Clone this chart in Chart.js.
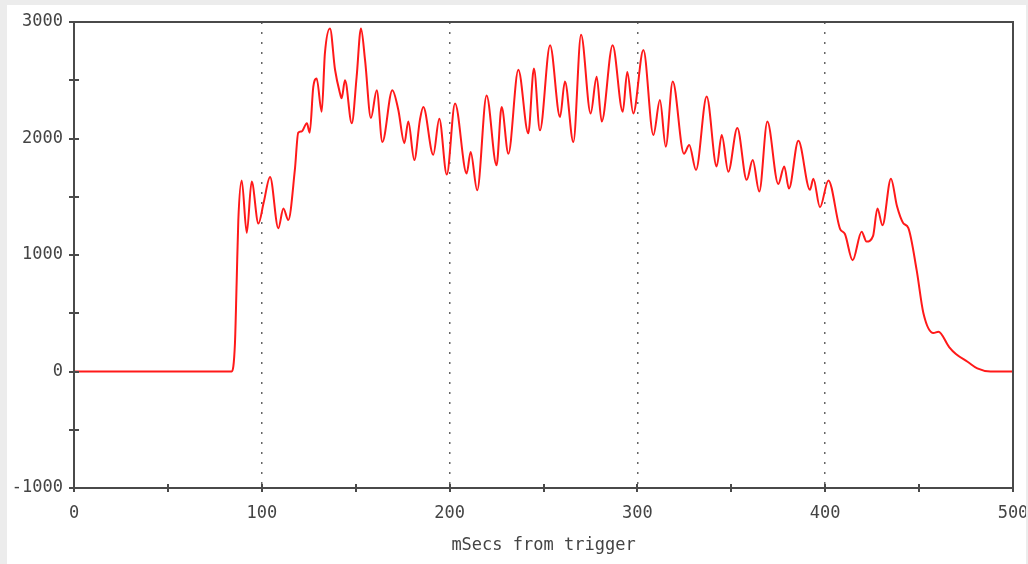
<!DOCTYPE html>
<html>
<head>
<meta charset="utf-8">
<script src="https://cdn.jsdelivr.net/npm/chart.js@4/dist/chart.umd.min.js"></script>
<style>
  html, body { margin: 0; padding: 0; background: #ececec; width: 1028px; height: 564px; overflow: hidden; }
  #panel { position: absolute; left: 7px; top: 5px; width: 1019px; height: 559px; background: #fff; }
  #trace { position: absolute; left: 0; top: 0; }
</style>
</head>
<body>
<div id="panel"></div>
<canvas id="trace" width="1026" height="564"></canvas>
<script>
// time after trigger (ms) and reading, picked off the plot
const msecs = [
  0, 84, 85.7, 86.6, 87.5, 89.3, 92, 94.6, 98.2, 101, 104.4, 108.8, 111.5, 114.1,
  117.6, 119.4, 121.2, 124, 125.5, 127.4, 129.2, 131.9, 133.6, 136.3, 139, 141.6,
  142.5, 144.3, 147.9, 150.5, 152.8, 155, 158.1, 161.2, 164.2, 169.5, 172.7, 175.9,
  178, 181.2, 184.2, 186, 191.3, 194.5, 198.5, 202.9, 209.1, 211.2, 214.7, 219.7,
  225, 227.7, 231.3, 236.6, 241.9, 244.9, 248.1, 253.5, 258.8, 261.4, 265.9, 270,
  275.1, 278.3, 281, 286.8, 292.2, 294.6, 297.8, 303.2, 308.5, 312, 315.1, 318.8,
  324.8, 327.6, 331.2, 336.9, 342.2, 344.9, 348.4, 353.2, 358.2, 361.4, 364.9, 369.2,
  375, 378.2, 380.7, 385.7, 391.9, 393.7, 397.2, 401.7, 407.9, 410.5, 414.6, 419.4,
  422, 425.5, 427.8, 430.5, 435, 438.2, 441.5, 444.3, 448.7, 452.3, 457.6, 460.3,
  466, 469.6, 475.8, 481, 488, 500
];
const readings = [
  0, 0, 240, 760, 1300, 1640, 1190, 1630, 1270, 1450, 1670, 1230, 1400, 1300,
  1730, 2050, 2060, 2130, 2050, 2440, 2515, 2230, 2730, 2945, 2590, 2390,
  2345, 2500, 2130, 2530, 2945, 2670, 2175, 2415, 1970, 2415, 2245, 1960,
  2145, 1815, 2160, 2270, 1860, 2170, 1690, 2300, 1700, 1885, 1555, 2370,
  1770, 2270, 1870, 2590, 2045, 2600, 2070, 2800, 2185, 2490, 1970, 2890,
  2215, 2530, 2145, 2800, 2230, 2570, 2215, 2760, 2030, 2330, 1930, 2490,
  1870, 1945, 1730, 2360, 1760, 2030, 1715, 2090, 1645, 1815, 1545, 2145,
  1610, 1760, 1570, 1980, 1560, 1655, 1410, 1640, 1225, 1180, 955, 1200,
  1115, 1165, 1400, 1255, 1655, 1420, 1275, 1230, 870, 500, 330, 342,
  210, 150, 84, 27, 0, 0
];
const xLabelTicks = [0, 100, 200, 300, 400, 500];
const yLabelTicks = [-1000, 0, 1000, 2000, 3000];
const dottedAt = [100, 200, 300, 400];

const axisColor = '#4a4a4a';
const textColor = '#444';

Chart.defaults.font.family = "'DejaVu Sans Mono', 'Liberation Mono', monospace";
Chart.defaults.font.size = 17;
Chart.defaults.color = textColor;

// frame round the plot plus the little crossing tick marks
const frame = {
  id: 'frame',
  afterDraw(chart) {
    const { ctx, chartArea: a, scales: { x, y } } = chart;
    ctx.save();
    ctx.strokeStyle = axisColor;
    ctx.lineWidth = 2;
    ctx.strokeRect(a.left, a.top, a.right - a.left, a.bottom - a.top);
    ctx.beginPath();
    x.ticks.forEach(t => {
      const px = Math.round(x.getPixelForValue(t.value));
      ctx.moveTo(px, a.bottom - 4);
      ctx.lineTo(px, a.bottom + 4);
    });
    y.ticks.forEach(t => {
      const py = Math.round(y.getPixelForValue(t.value));
      ctx.moveTo(a.left - 5, py);
      ctx.lineTo(a.left + 5, py);
    });
    ctx.stroke();
    ctx.restore();
  }
};

new Chart(document.getElementById('trace'), {
  type: 'line',
  data: {
    datasets: [{
      data: msecs.map((t, i) => ({ x: t, y: readings[i] })),
      borderColor: 'rgb(255,25,25)',
      borderWidth: 2,
      pointRadius: 0,
      cubicInterpolationMode: 'monotone',
      fill: false
    }]
  },
  plugins: [frame],
  options: {
    responsive: false,
    animation: false,
    layout: { padding: { top: 22, right: 13, left: 0, bottom: 0 } },
    plugins: { legend: { display: false }, tooltip: { enabled: false } },
    scales: {
      x: {
        type: 'linear',
        min: 0,
        max: 500,
        afterFit: s => { s.height = 76; s.paddingLeft = 0; s.paddingRight = 0; },
        border: { display: false, dash: [2, 8] },
        grid: {
          drawTicks: false,
          lineWidth: 1.5,
          color: c => dottedAt.includes(c.tick.value) ? '#666' : 'rgba(0,0,0,0)'
        },
        ticks: {
          stepSize: 50,
          autoSkip: false,
          maxRotation: 0,
          padding: 15,
          callback: v => xLabelTicks.includes(v) ? v : ''
        },
        title: {
          display: true,
          text: 'mSecs from trigger',
          font: { size: 17 },
          padding: { top: 0, bottom: 8 }
        }
      },
      y: {
        min: -1000,
        max: 3000,
        afterFit: s => { s.width = 74; s.paddingTop = 0; s.paddingBottom = 0; },
        border: { display: false },
        grid: { display: false, drawTicks: false },
        ticks: {
          stepSize: 500,
          autoSkip: false,
          padding: 11,
          callback: v => yLabelTicks.includes(v) ? v : ''
        }
      }
    }
  }
});
</script>
</body>
</html>
